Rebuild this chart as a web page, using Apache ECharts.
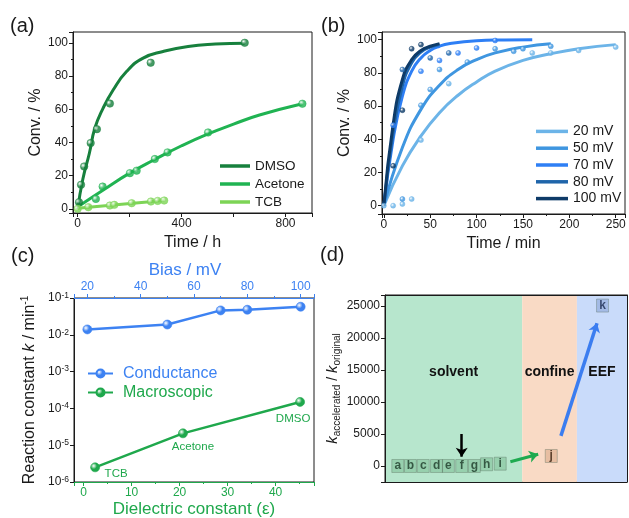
<!DOCTYPE html>
<html>
<head>
<meta charset="utf-8">
<script src="https://cdn.jsdelivr.net/npm/echarts@6/dist/echarts.min.js"></script>
<style>
  html, body { margin: 0; padding: 0; background: #fff; }
  #main { width: 629px; height: 518px; }
</style>
</head>
<body>
<div id="main"></div>
<script>
// (a) conversion vs time, three solvents
var solventLegend = ['DMSO', 'Acetone', 'TCB'];
var dmsoTime = [5, 13, 25, 50, 74, 124, 281, 643];
var dmsoConv = [4, 14.5, 25.5, 39.6, 48, 63.4, 88, 100];
var dmsoFitTime = [0, 20, 45, 66, 98, 137, 188, 252, 329, 425, 530, 643];
var dmsoFitConv = [0, 18, 33.5, 48.5, 60.7, 71.7, 82.7, 90.8, 94.8, 97.8, 99.2, 99.8];
var acetoneTime = [70, 96, 201, 227, 297, 346, 502, 865];
var acetoneConv = [6, 13.4, 21.5, 23, 30, 34, 46, 63.3];
var acetoneFitTime = [8, 100, 200, 300, 400, 500, 600, 700, 865];
var acetoneFitConv = [2, 11.5, 21.5, 30, 38, 45, 51, 56.5, 63.3];
var tcbTime = [0, 41, 124, 141, 208, 282, 308, 333];
var tcbConv = [0, 1, 2, 2.4, 3.4, 4.4, 4.8, 5];
var tcbFitTime = [0, 170, 333];
var tcbFitConv = [0.3, 2.8, 5];

// (b) conversion vs time at different bias
var biasLegend = ['20 mV', '50 mV', '70 mV', '80 mV', '100 mV'];
var t20 = [0, 10, 20, 30, 40, 70, 160, 180, 210, 250];
var c20 = [0, 0, 1, 4, 39.5, 73.5, 92, 92, 93.5, 95.5];
var t50 = [20, 40, 50, 60, 90, 120, 140, 150, 180];
var c50 = [4, 60.5, 70, 82, 86.5, 94.5, 93, 94.5, 96];
var t70 = [10, 40, 60, 80, 100, 120];
var c70 = [48.5, 81, 87.5, 92, 95, 99.5];
var t80 = [20, 50, 70];
var c80 = [82, 89, 92];
var t100 = [10, 20, 30, 40];
var c100 = [24, 57.5, 94.5, 97];
var fitT20 = [0, 20, 40, 60, 80, 100, 120, 150, 180, 210, 250];
var fitC20 = [0, 24, 42, 56, 66.5, 74.5, 81, 87.5, 91.5, 94.5, 97];
var fitT50 = [0, 20, 40, 60, 80, 100, 120, 150, 180];
var fitC50 = [0, 35, 58, 72.5, 82, 88, 92, 95.5, 97.5];
var fitT70 = [0, 10, 20, 30, 40, 50, 60, 70, 100, 130, 160];
var fitC70 = [0, 40, 66, 81, 89, 93.5, 96, 97.5, 99.3, 99.8, 100];
var fitT80 = [0, 10, 20, 30, 40, 50, 60];
var fitC80 = [0, 44, 72, 86, 92.5, 95.5, 97];
var fitT100 = [0, 10, 20, 30, 40, 50, 60];
var fitC100 = [0, 49, 76, 88, 93.5, 96, 97.6];

// (c) rate constants
var biasMv = [20, 50, 70, 80, 100];
var kConductance = [0.014, 0.019, 0.046, 0.048, 0.058];
var dielectric = [2.4, 20.7, 45.1];
var kMacro = [2.5e-6, 2.1e-5, 1.5e-4];
var macroNames = ['TCB', 'Acetone', 'DMSO'];

// (d) acceleration ratios
var letters = ['a', 'b', 'c', 'd', 'e', 'f', 'g', 'h', 'i', 'j', 'k'];
var letterPos = [5.3, 10.5, 15.8, 21.3, 26.2, 31.7, 36.9, 42, 47.6, 68.7, 89.9];
var ratio = [0, 0, 0, 0, 0, 0, 0, 270, 360, 1560, 25050];
var regionNames = ['solvent', 'confine', 'EEF'];
var regionEdges = [0, 56.7, 79.3, 100];
var arrowBlack = [[31.7, 5000], [31.7, 1450]];
var arrowGreen = [[51.8, 670], [63.3, 1830]];
var arrowBlue = [[72.7, 4700], [87.6, 22300]];

var FONT = 'Liberation Sans, Arial, sans-serif';
var INK = '#1a1a1a';
var solventColors = ['#17803d', '#20b352', '#7dd456'];
var biasColors = ['#6cb4e8', '#3f96e0', '#2e7ff5', '#1f65aa', '#0e3b68'];
var cBlue = '#3d82f2';
var cGreen = '#1fa84c';
var regionColors = ['#b7e6cd', '#f9dac5', '#c9dbfa'];

function pairs(xs, ys) {
  return xs.map(function (x, i) { return [x, ys[i]]; });
}
function sphere(c) {
  return {
    type: 'radial', x: 0.35, y: 0.35, r: 0.75,
    colorStops: [{offset: 0, color: '#ffffff'}, {offset: 0.45, color: c}, {offset: 1, color: c}]
  };
}
function every(step) {
  return function (v) { return Math.abs(v % step) < 1e-6 ? String(v) : ''; };
}
function axisBase(grid, extra) {
  var a = {
    gridIndex: grid,
    type: 'value',
    axisLine: {show: true, onZero: false, lineStyle: {color: INK, width: 1}},
    axisTick: {show: true, length: 4, lineStyle: {color: INK}},
    minorTick: {show: false},
    splitLine: {show: false},
    axisLabel: {color: INK, fontSize: 12, margin: 5, fontFamily: FONT},
    nameLocation: 'middle',
    nameTextStyle: {color: INK, fontSize: 16, fontFamily: FONT}
  };
  for (var k in extra) a[k] = extra[k];
  return a;
}
function fitLine(name, xi, yi, pts, color) {
  return {
    name: name, type: 'line', xAxisIndex: xi, yAxisIndex: yi,
    data: pts, smooth: true, showSymbol: false, symbol: 'none',
    itemStyle: {color: color}, lineStyle: {color: color, width: 3}, z: 3
  };
}
function dots(name, xi, yi, pts, color, size) {
  return {
    name: name, type: 'scatter', xAxisIndex: xi, yAxisIndex: yi,
    data: pts, symbolSize: size,
    itemStyle: {color: sphere(color), borderColor: color, borderWidth: 0.6}, z: 4
  };
}

var chart = echarts.init(document.getElementById('main'));

var series = [
  // (a)
  fitLine('DMSO', 0, 0, pairs(dmsoFitTime, dmsoFitConv), solventColors[0]),
  fitLine('Acetone', 0, 0, pairs(acetoneFitTime, acetoneFitConv), solventColors[1]),
  fitLine('TCB', 0, 0, pairs(tcbFitTime, tcbFitConv), solventColors[2]),
  dots('DMSO pts', 0, 0, pairs(dmsoTime, dmsoConv), solventColors[0], 7.5),
  dots('Acetone pts', 0, 0, pairs(acetoneTime, acetoneConv), solventColors[1], 7.5),
  dots('TCB pts', 0, 0, pairs(tcbTime, tcbConv), solventColors[2], 7.5),
  // (b)
  fitLine('20 mV', 1, 1, pairs(fitT20, fitC20), biasColors[0]),
  fitLine('50 mV', 1, 1, pairs(fitT50, fitC50), biasColors[1]),
  fitLine('70 mV', 1, 1, pairs(fitT70, fitC70), biasColors[2]),
  fitLine('80 mV', 1, 1, pairs(fitT80, fitC80), biasColors[3]),
  fitLine('100 mV', 1, 1, pairs(fitT100, fitC100), biasColors[4]),
  dots('20 pts', 1, 1, pairs(t20, c20), biasColors[0], 5),
  dots('50 pts', 1, 1, pairs(t50, c50), biasColors[1], 5),
  dots('70 pts', 1, 1, pairs(t70, c70), biasColors[2], 5),
  dots('80 pts', 1, 1, pairs(t80, c80), biasColors[3], 5),
  dots('100 pts', 1, 1, pairs(t100, c100), biasColors[4], 5),
  // (c)
  {
    name: 'Conductance', type: 'line', xAxisIndex: 3, yAxisIndex: 2,
    data: pairs(biasMv, kConductance), symbol: 'circle', symbolSize: 9,
    itemStyle: {color: sphere(cBlue), borderColor: cBlue, borderWidth: 0.6},
    lineStyle: {color: cBlue, width: 2.5}
  },
  {
    name: 'Macroscopic', type: 'line', xAxisIndex: 2, yAxisIndex: 2,
    data: dielectric.map(function (e, i) {
      var off = [[21, 6], [10, 13], [-7, 17]][i];
      return {
        value: [e, kMacro[i]], name: macroNames[i],
        label: {show: true, position: 'inside', offset: off, formatter: '{b}',
          color: cGreen, fontSize: 11.5, fontFamily: FONT}
      };
    }),
    symbol: 'circle', symbolSize: 9,
    itemStyle: {color: sphere(cGreen), borderColor: cGreen, borderWidth: 0.6},
    lineStyle: {color: cGreen, width: 2.5}
  },
  // (d)
  {
    name: 'ratio', type: 'scatter', xAxisIndex: 4, yAxisIndex: 3, z: 3,
    symbol: 'rect', symbolSize: [12, 13],
    data: letters.map(function (l, i) {
      var fill = 'rgba(70,150,95,0.35)', txt = '#1d3a28';
      if (l === 'j') { fill = 'rgba(200,140,100,0.45)'; txt = '#3a2210'; }
      if (l === 'k') { fill = 'rgba(110,140,200,0.5)'; txt = '#1a2a50'; }
      return {
        name: l, value: [letterPos[i], ratio[i]],
        itemStyle: {color: fill, borderColor: 'rgba(90,110,95,0.6)', borderWidth: 0.8},
        label: {color: txt}
      };
    }),
    label: {show: true, position: 'inside', formatter: '{b}', fontSize: 12,
      fontWeight: 'bold', fontFamily: FONT},
    markArea: {
      silent: true,
      label: {show: true, position: ['50%', '41%'], align: 'center', verticalAlign: 'middle',
        color: '#111', fontSize: 14, fontWeight: 'bold', fontFamily: FONT},
      data: regionNames.map(function (n, i) {
        return [
          {name: n, xAxis: regionEdges[i], itemStyle: {color: regionColors[i], opacity: 1}},
          {xAxis: regionEdges[i + 1]}
        ];
      })
    }
  },
  {
    name: 'arrows', type: 'lines', coordinateSystem: 'cartesian2d',
    xAxisIndex: 4, yAxisIndex: 3, z: 4,
    symbol: ['none', 'arrow'], symbolSize: 9,
    data: [
      {coords: arrowBlack, lineStyle: {color: '#000', width: 2.5, opacity: 1}},
      {coords: arrowGreen, lineStyle: {color: '#1eaa50', width: 3, opacity: 1}},
      {coords: arrowBlue, lineStyle: {color: '#3b7df0', width: 3.5, opacity: 1}}
    ]
  }
];

chart.setOption({
  animation: false,
  textStyle: {fontFamily: FONT},
  title: [
    {text: '(a)', left: 10, top: 16},
    {text: '(b)', left: 321, top: 16},
    {text: '(c)', left: 11, top: 246},
    {text: '(d)', left: 320, top: 245}
  ].map(function (t) {
    t.padding = 0;
    t.textStyle = {fontSize: 20, fontWeight: 'normal', color: INK, fontFamily: FONT};
    return t;
  }),
  grid: [
    {left: 73, top: 32, width: 239, height: 181},
    {left: 382, top: 32, width: 243, height: 182},
    {left: 74, top: 298, width: 240, height: 184},
    {left: 385, top: 295, width: 242, height: 187}
  ].map(function (g) {
    g.show = true;
    g.borderColor = INK;
    g.borderWidth = 1;
    g.containLabel = false;
    g.outerBoundsMode = 'none';
    return g;
  }),
  legend: [
    {
      data: solventLegend, orient: 'vertical', left: 220, top: 157, padding: 0,
      icon: 'rect', itemWidth: 30, itemHeight: 3.5, itemGap: 0,
      textStyle: {fontSize: 13.5, lineHeight: 18, color: INK, fontFamily: FONT}
    },
    {
      data: biasLegend, orient: 'vertical', left: 536, top: 123, padding: 0,
      icon: 'rect', itemWidth: 32, itemHeight: 3.5, itemGap: 0,
      textStyle: {fontSize: 14, lineHeight: 16.8, color: INK, fontFamily: FONT}
    },
    {
      data: [
        {name: 'Conductance', textStyle: {color: cBlue}},
        {name: 'Macroscopic', textStyle: {color: cGreen}}
      ],
      orient: 'vertical', left: 87, top: 364, padding: 0,
      itemWidth: 25, itemHeight: 10, itemGap: 0,
      textStyle: {fontSize: 16, lineHeight: 19, padding: [0, 0, 0, 5], fontFamily: FONT}
    }
  ],
  xAxis: [
    axisBase(0, {min: -18, max: 902, name: 'Time / h', nameGap: 22,
      axisLabel: {color: INK, fontSize: 12, margin: 5, formatter: every(400)}}),
    axisBase(1, {min: -2, max: 260, name: 'Time / min', nameGap: 22,
      minorTick: {show: true, splitNumber: 2, length: 2, lineStyle: {color: INK}},
      axisLabel: {color: INK, fontSize: 12, margin: 5, formatter: every(50)}}),
    axisBase(2, {min: -2, max: 48, name: 'Dielectric constant (\u03b5)', nameGap: 19,
      axisLine: {show: true, onZero: false, lineStyle: {color: cGreen, width: 1.2}},
      axisTick: {show: true, length: 4, lineStyle: {color: cGreen}},
      minorTick: {show: true, splitNumber: 2, length: 2, lineStyle: {color: cGreen}},
      axisLabel: {color: cGreen, fontSize: 12, margin: 5, formatter: every(10)},
      nameTextStyle: {color: cGreen, fontSize: 17}}),
    axisBase(2, {min: 15, max: 105, position: 'top', name: 'Bias / mV', nameGap: 19,
      axisLine: {show: true, onZero: false, lineStyle: {color: cBlue, width: 1.2}},
      axisTick: {show: true, length: 4, lineStyle: {color: cBlue}},
      minorTick: {show: true, splitNumber: 2, length: 2, lineStyle: {color: cBlue}},
      axisLabel: {color: cBlue, fontSize: 12, margin: 5, formatter: every(20)},
      nameTextStyle: {color: cBlue, fontSize: 17, padding: [0, 18, 0, 0]}}),
    axisBase(3, {min: 0, max: 100, z: 5, axisTick: {show: false}, axisLabel: {show: false}}),
    axisBase(3, {min: 0, max: 100, z: 5, position: 'top', axisTick: {show: false}, axisLabel: {show: false}})
  ],
  yAxis: [
    axisBase(0, {min: -2.5, max: 106.5, name: 'Conv. / %', nameGap: 20,
      minorTick: {show: true, splitNumber: 2, length: 2, lineStyle: {color: INK}},
      axisLabel: {color: INK, fontSize: 12, margin: 5, formatter: every(20)}}),
    axisBase(1, {min: -5, max: 104.6, name: 'Conv. / %', nameGap: 19,
      minorTick: {show: true, splitNumber: 2, length: 2, lineStyle: {color: INK}},
      axisLabel: {color: INK, fontSize: 12, margin: 5, formatter: every(20)}}),
    axisBase(2, {type: 'log', logBase: 10, min: 1e-6, max: 0.1, nameGap: 34,
      name: '{t|Reaction constant }{i|k}{t| / min}{sup|-1}',
      nameTextStyle: {color: INK, fontSize: 16, rich: {
        t: {fontSize: 16, color: INK, lineHeight: 20},
        i: {fontSize: 16, color: INK, fontStyle: 'italic', lineHeight: 20},
        sup: {fontSize: 10, color: INK, verticalAlign: 'top', lineHeight: 20}
      }},
      axisLabel: {color: INK, fontSize: 12, margin: 5,
        formatter: function (v) {
          return '10{sup|' + Math.round(Math.log10(v)) + '}';
        },
        rich: {sup: {fontSize: 8.5, color: INK, verticalAlign: 'top', lineHeight: 14}}}}),
    axisBase(3, {min: -2500, max: 26700, z: 5, nameGap: 42,
      name: '{i|k}{s|accelerated}{n| / }{i|k}{s|original}',
      nameTextStyle: {color: INK, rich: {
        i: {fontSize: 15, color: INK, fontStyle: 'italic', lineHeight: 20},
        n: {fontSize: 14, color: INK, lineHeight: 20},
        s: {fontSize: 10, color: INK, verticalAlign: 'bottom', lineHeight: 20}
      }},
      axisLabel: {color: INK, fontSize: 12, margin: 5, formatter: every(5000)}}),
    axisBase(3, {min: -2500, max: 26700, z: 5, position: 'right',
      axisTick: {show: false}, axisLabel: {show: false}})
  ],
  series: series
});
</script>
</body>
</html>
